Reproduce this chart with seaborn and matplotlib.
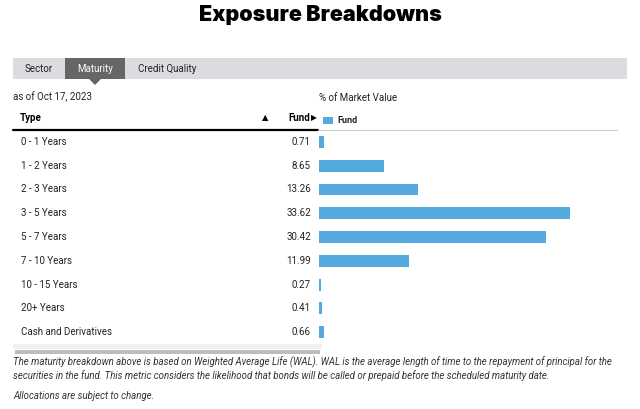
import matplotlib
matplotlib.use('Agg')
import matplotlib.pyplot as plt
import seaborn as sns
import pandas as pd
from matplotlib.transforms import blended_transform_factory
from matplotlib.patches import Rectangle, Polygon
from matplotlib.lines import Line2D

types = ["0 - 1 Years", "1 - 2 Years", "2 - 3 Years", "3 - 5 Years", "5 - 7 Years",
         "7 - 10 Years", "10 - 15 Years", "20+ Years", "Cash and Derivatives"]
fund = [0.71, 8.65, 13.26, 33.62, 30.42, 11.99, 0.27, 0.41, 0.66]
value_labels = ["0.71", "8.65", "13.26", "33.62", "30.42", "11.99", "0.27", "0.41", "0.66"]
tabs = ["Sector", "Maturity", "Credit Quality"]
title = "Exposure Breakdowns"
as_of = "as of Oct 17, 2023"
axis_title = "% of Market Value"
note1 = ("The maturity breakdown above is based on Weighted Average Life (WAL). WAL is the average length of time to the repayment of principal for the")
note2 = ("securities in the fund. This metric considers the likelihood that bonds will be called or prepaid before the scheduled maturity date.")
note3 = "Allocations are subject to change."

sns.set_theme(style='white')
plt.rcParams['font.family'] = ['Roboto', 'DejaVu Sans']

W, H = 640, 409
fig = plt.figure(figsize=(6.4, 4.09), dpi=100)
fig.patch.set_facecolor('white')


def fx(x):
    return x / W


def fy(y):
    return 1 - y / H


BAR = '#54a9de'
TXT = '#222222'
FS = 7.0

ax = fig.add_axes([fx(319), fy(344), 300 / W, 214 / H])
df = pd.DataFrame({'Type': types, 'Fund': fund})
sns.barplot(data=df, y='Type', x='Fund', orient='h', color=BAR, width=0.5,
            saturation=1, linewidth=0, ax=ax)
ax.set_xlim(0, 300 / 7.47)
ax.set_ylim(8.5, -0.5)
ax.axis('off')

tr = blended_transform_factory(fig.transFigure, ax.transData)
for i, (t, v) in enumerate(zip(types, value_labels)):
    ax.text(fx(21), i, t, transform=tr, ha='left', va='center', fontsize=FS, color=TXT)
    ax.text(fx(311), i, v, transform=tr, ha='right', va='center', fontsize=FS, color=TXT)

# Title
fig.text(0.5, fy(15), title, ha='center', va='center', fontsize=15.5,
         fontweight='black', color='black', family=['Inter', 'DejaVu Sans'])

# Tab bar
fig.add_artist(Rectangle((fx(13), fy(79)), (627 - 13) / W, 21 / H,
                         transform=fig.transFigure, facecolor='#dcdce0',
                         edgecolor='none', zorder=0))
fig.add_artist(Rectangle((fx(65), fy(79)), 60 / W, 21 / H,
                         transform=fig.transFigure, facecolor='#666666',
                         edgecolor='none', zorder=1))
fig.add_artist(Polygon([(fx(89), fy(79)), (fx(101), fy(79)), (fx(95), fy(85))],
                       closed=True, transform=fig.transFigure,
                       facecolor='#666666', edgecolor='none', zorder=1))
tab_x = [39, 95, 167]
for t, x in zip(tabs, tab_x):
    fig.text(fx(x), fy(69), t, ha='center', va='center', fontsize=FS,
             color='white' if t == 'Maturity' else TXT, zorder=2)

fig.text(fx(13), fy(97), as_of, ha='left', va='center', fontsize=FS, color=TXT)
fig.text(fx(319), fy(98), axis_title, ha='left', va='center', fontsize=FS, color=TXT)

# Header
fig.text(fx(20), fy(118), "Type", ha='left', va='center', fontsize=FS,
         fontweight='bold', color='black')
fig.text(fx(265), fy(118), "▲", ha='center', va='center', fontsize=6,
         color='black', family=['DejaVu Sans'])
fig.text(fx(310), fy(118), "Fund", ha='right', va='center', fontsize=FS,
         fontweight='bold', color='black')
fig.text(fx(314), fy(118), "▶", ha='center', va='center', fontsize=5.5,
         color='black', family=['DejaVu Sans'])

# Legend
fig.add_artist(Rectangle((fx(323), fy(124)), 10 / W, 7 / H,
                         transform=fig.transFigure, facecolor=BAR, edgecolor='none'))
fig.text(fx(337), fy(120.5), "Fund", ha='left', va='center', fontsize=6.5,
         fontweight='bold', color=TXT)

# Header lines
fig.add_artist(Line2D([fx(13), fx(318)], [fy(129.5), fy(129.5)],
                      transform=fig.transFigure, color='black', lw=1.6))
fig.add_artist(Line2D([fx(318), fx(617)], [fy(129.5), fy(129.5)],
                      transform=fig.transFigure, color='#cccccc', lw=0.8))

# Scrollbar
fig.add_artist(Rectangle((fx(13), fy(349)), (322 - 13) / W, 5 / H,
                         transform=fig.transFigure, facecolor='#f0f0f0',
                         edgecolor='none'))
fig.add_artist(Rectangle((fx(15), fy(353.5)), (320 - 15) / W, 3.5 / H,
                         transform=fig.transFigure, facecolor='#bdbdbd',
                         edgecolor='none'))

# Notes
for y, t in [(362, note1), (376, note2), (396, note3)]:
    fig.text(fx(13), fy(y), t, ha='left', va='center', fontsize=6.95,
             style='italic', color='#333333')

fig.savefig('out.png', dpi=100)
